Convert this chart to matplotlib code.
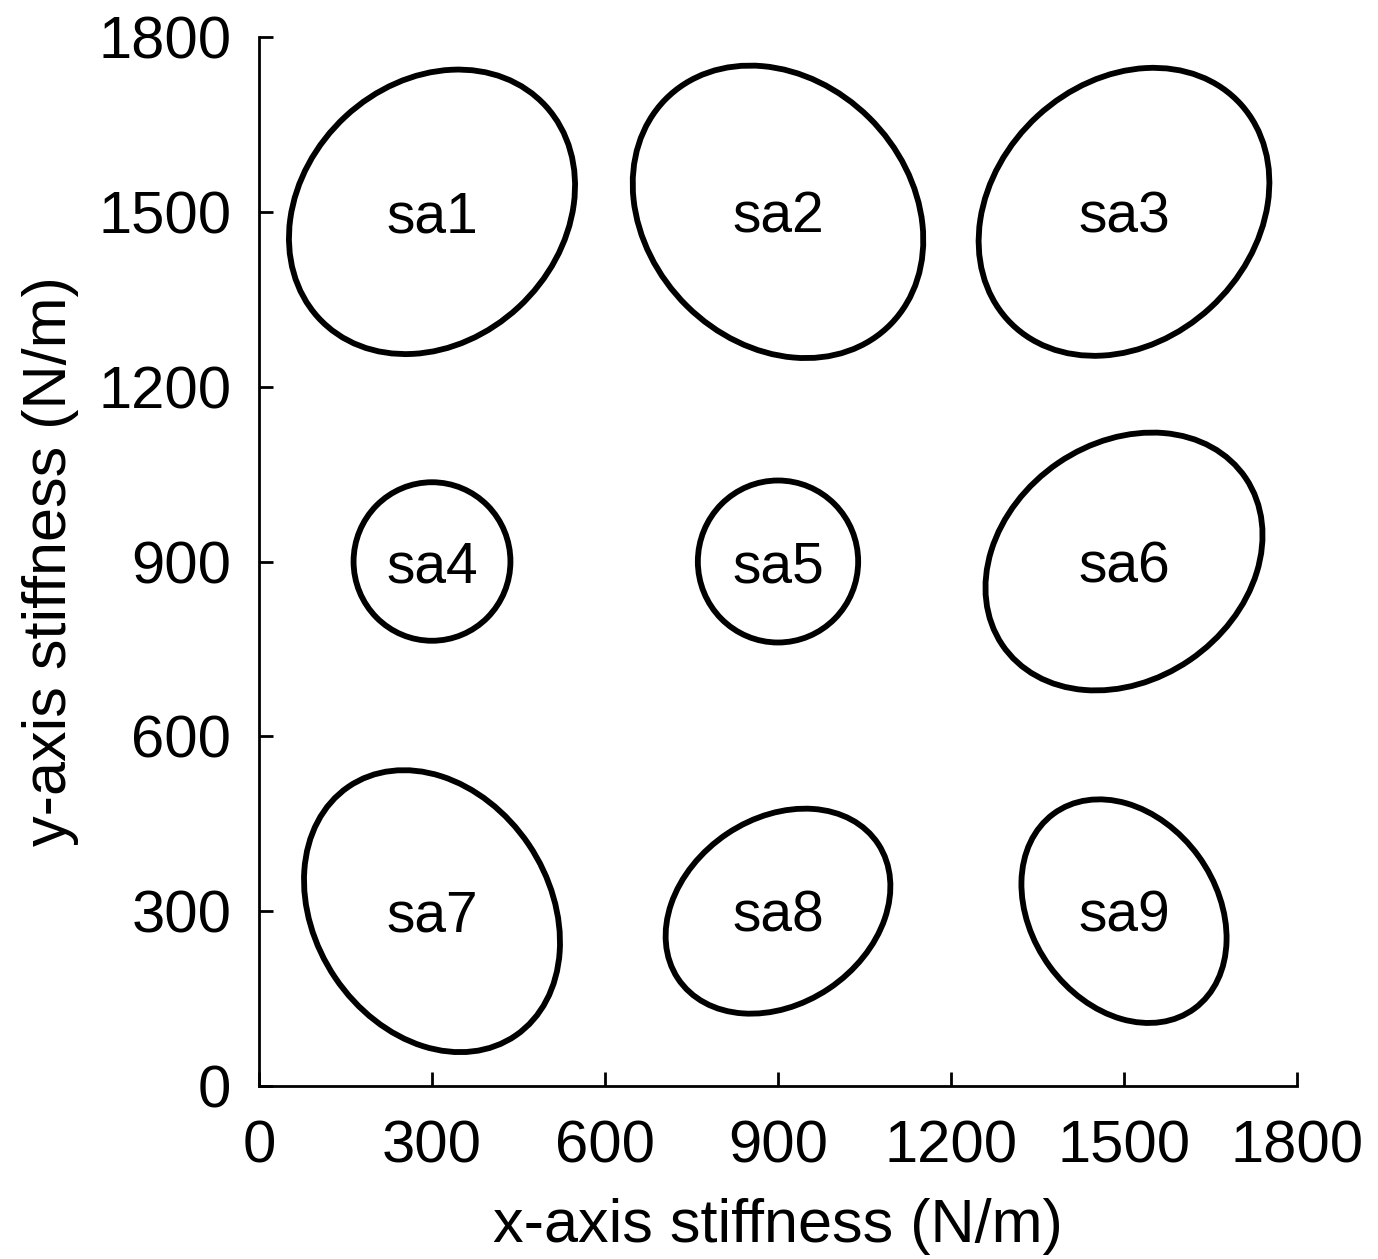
import matplotlib
matplotlib.use("Agg")
import matplotlib.pyplot as plt
from matplotlib.patches import Ellipse

plt.rcParams['font.family'] = ['Liberation Sans', 'DejaVu Sans']

# Data (N/m)
names = ["sa1", "sa2", "sa3", "sa4", "sa5", "sa6", "sa7", "sa8", "sa9"]
center_x = [300, 900, 1500, 300, 900, 1500, 300, 900, 1500]
center_y = [1500, 1500, 1500, 900, 900, 900, 300, 300, 300]
widths = [536, 549, 548, 272, 278, 510, 516, 417, 414]
heights = [444, 452, 445, 272, 278, 408, 406, 319, 320]
angles = [42.5, -44.4, 42.2, 0, 0, 34.0, -55.7, 33.5, -53.7]

xticks = [0, 300, 600, 900, 1200, 1500, 1800]
yticks = [0, 300, 600, 900, 1200, 1500, 1800]

fig = plt.figure(figsize=(13.78, 12.59), dpi=100)
ax = fig.add_axes([259/1378, 1 - 1086/1259, (1297-259)/1378, (1086-37)/1259])

for n, x, y, w, h, a in zip(names, center_x, center_y, widths, heights, angles):
    e = Ellipse((x, y), w, h, angle=a, fill=False, edgecolor='black', linewidth=4.2)
    ax.add_patch(e)
    ax.annotate(n, xy=(x, y), xytext=(0, -15), textcoords='offset points',
                ha='center', va='baseline', fontsize=41, color='black')

ax.set_xlim(0, 1800)
ax.set_ylim(0, 1800)
ax.set_xticks(xticks)
ax.set_yticks(yticks)
ax.set_xticklabels([str(t) for t in xticks])
ax.set_yticklabels([str(t) for t in yticks])

for s in ['top', 'right']:
    ax.spines[s].set_visible(False)
for s in ['left', 'bottom']:
    ax.spines[s].set_linewidth(2)

ax.tick_params(axis='both', direction='in', length=10, width=2, labelsize=43)
ax.tick_params(axis='x', pad=24)
ax.tick_params(axis='y', pad=20)

ax.set_xlabel("x-axis stiffness (N/m)", fontsize=44, labelpad=17)
ax.set_ylabel("y-axis stiffness (N/m)", fontsize=44, labelpad=14)

fig.savefig("out.png", dpi=100)
